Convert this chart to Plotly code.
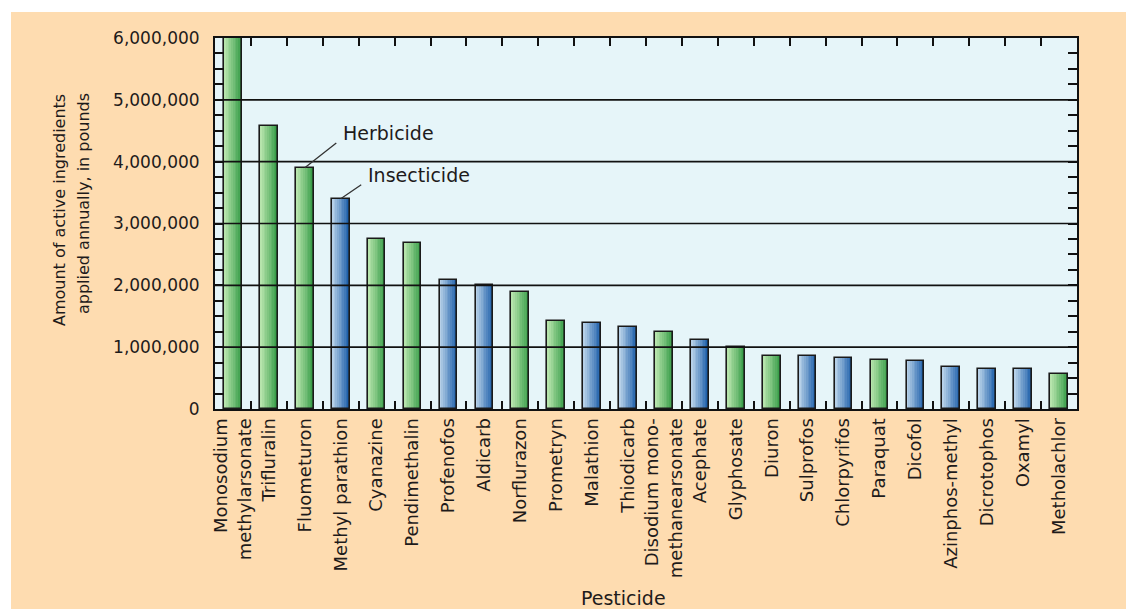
import plotly.graph_objects as go

# ---------------- data ----------------
pesticides = [
    "Monosodium<br>methylarsonate", "Trifluralin", "Fluometuron", "Methyl parathion",
    "Cyanazine", "Pendimethalin", "Profenofos", "Aldicarb", "Norflurazon", "Prometryn",
    "Malathion", "Thiodicarb", "Disodium mono-<br>methanearsonate", "Acephate",
    "Glyphosate", "Diuron", "Sulprofos", "Chlorpyrifos", "Paraquat", "Dicofol",
    "Azinphos-methyl", "Dicrotophos", "Oxamyl", "Metholachlor",
]
amounts = [
    6000000, 4580000, 3900000, 3400000, 2750000, 2690000, 2090000, 2000000,
    1890000, 1430000, 1390000, 1330000, 1240000, 1120000, 1000000, 860000,
    860000, 830000, 800000, 780000, 680000, 650000, 650000, 570000,
]
kinds = [
    "H", "H", "H", "I", "H", "H", "I", "I", "H", "H", "I", "I", "H", "I",
    "H", "H", "I", "I", "H", "I", "I", "I", "I", "H",
]
y_ticks = [0, 1000000, 2000000, 3000000, 4000000, 5000000, 6000000]

# ---------------- layout constants ----------------
W, H = 1126, 609
ML, MR, MT, MB = 215, 49, 38, 200
PW, PH = W - ML - MR, H - MT - MB
FONT = "DejaVu Sans"
TXT = "#1e1b1b"

def px_x(px):
    return (px - ML) / PW

def px_y(py):
    return (H - MB - py) / PH

def lerp(c1, c2, t):
    return "rgb(%d,%d,%d)" % tuple(round(a + (b - a) * t) for a, b in zip(c1, c2))

GREEN = ((182, 228, 172), (58, 158, 74))
BLUE = ((182, 208, 232), (30, 96, 170))

fig = go.Figure()

bw = 0.49
N = 10
for i in range(N):
    t = i / (N - 1)
    cols = [lerp(*(GREEN if k == "H" else BLUE), t) for k in kinds]
    fig.add_trace(go.Bar(
        x=pesticides, y=amounts,
        width=bw / N * (1.25 if i < N - 1 else 1.0),
        offset=-bw / 2 + i * bw / N,
        marker=dict(color=cols, line=dict(width=0)),
        hoverinfo="skip", showlegend=False,
    ))
# outline
fig.add_trace(go.Bar(
    x=pesticides, y=amounts, width=bw, offset=-bw / 2,
    marker=dict(color="rgba(0,0,0,0)", line=dict(color="#1a1a1a", width=1.6)),
    hoverinfo="skip", showlegend=False,
))

# gridlines above bars
shapes = []
for v in y_ticks[1:-1]:
    shapes.append(dict(type="line", xref="paper", yref="y", x0=0, x1=1, y0=v, y1=v,
                       line=dict(color="#111111", width=1.6), layer="above"))
# white outer strips (orange panel starts at 11,12)
shapes.append(dict(type="rect", xref="paper", yref="paper",
                   x0=px_x(-5), x1=px_x(11), y0=px_y(H + 5), y1=px_y(-5),
                   fillcolor="white", line=dict(width=0), layer="below"))
shapes.append(dict(type="rect", xref="paper", yref="paper",
                   x0=px_x(-5), x1=px_x(W + 5), y0=px_y(12), y1=px_y(-5),
                   fillcolor="white", line=dict(width=0), layer="below"))

annotations = [
    # pointer lines
    dict(x=pesticides[2], y=amounts[2], xref="x", yref="y", text="", showarrow=True,
         arrowhead=0, arrowwidth=1.3, arrowcolor="#333333", ax=33, ay=-26, standoff=0),
    dict(x=pesticides[3], y=amounts[3], xref="x", yref="y", text="", showarrow=True,
         arrowhead=0, arrowwidth=1.3, arrowcolor="#333333", ax=22, ay=-15, standoff=0),
    # labels
    dict(x=pesticides[2], y=amounts[2], xref="x", yref="y", text="Herbicide",
         showarrow=False, xanchor="left", yanchor="middle", xshift=36, yshift=35,
         font=dict(family=FONT, size=19, color=TXT)),
    dict(x=pesticides[3], y=amounts[3], xref="x", yref="y", text="Insecticide",
         showarrow=False, xanchor="left", yanchor="middle", xshift=25, yshift=24,
         font=dict(family=FONT, size=19, color=TXT)),
    # axis titles
    dict(x=px_x(59), y=px_y(210), xref="paper", yref="paper",
         text="Amount of active ingredients",
         textangle=-90, showarrow=False, xanchor="center", yanchor="middle",
         font=dict(family=FONT, size=16, color=TXT)),
    dict(x=px_x(83), y=px_y(204), xref="paper", yref="paper",
         text="applied annually, in pounds",
         textangle=-90, showarrow=False, xanchor="center", yanchor="middle",
         font=dict(family=FONT, size=16, color=TXT)),
    dict(x=px_x(623), y=px_y(598), xref="paper", yref="paper", text="Pesticide",
         showarrow=False, xanchor="center", yanchor="middle",
         font=dict(family=FONT, size=19, color=TXT)),
]

fig.update_layout(
    width=W, height=H,
    margin=dict(l=ML, r=MR, t=MT, b=MB, autoexpand=False),
    paper_bgcolor="#FEDCB0",
    plot_bgcolor="#E6F5F9",
    barmode="overlay",
    bargap=0,
    showlegend=False,
    shapes=shapes,
    annotations=annotations,
    font=dict(family=FONT, color=TXT),
)
fig.update_xaxes(
    type="category", tickson="boundaries", ticks="inside", ticklen=8, tickwidth=1.6,
    tickcolor="#111111", showline=True, linecolor="#111111", linewidth=2, mirror="ticks",
    showgrid=False, tickangle=-90, tickfont=dict(family=FONT, size=18, color=TXT),
    range=[-0.5, len(pesticides) - 0.5], automargin=False,
)
fig.update_yaxes(
    range=[0, 6000000], tickvals=y_ticks, tickformat=",d", ticks="inside", ticklen=9,
    tickwidth=1.6, tickcolor="#111111", showline=True, linecolor="#111111", linewidth=2,
    mirror="ticks", showgrid=False, zeroline=False,
    tickfont=dict(family=FONT, size=17, color=TXT), ticklabelstandoff=10,
    minor=dict(dtick=250000, tick0=0, ticks="inside", ticklen=9, tickwidth=1.6,
               tickcolor="#111111", showgrid=False),
    automargin=False,
)

fig.write_html("out.html")
